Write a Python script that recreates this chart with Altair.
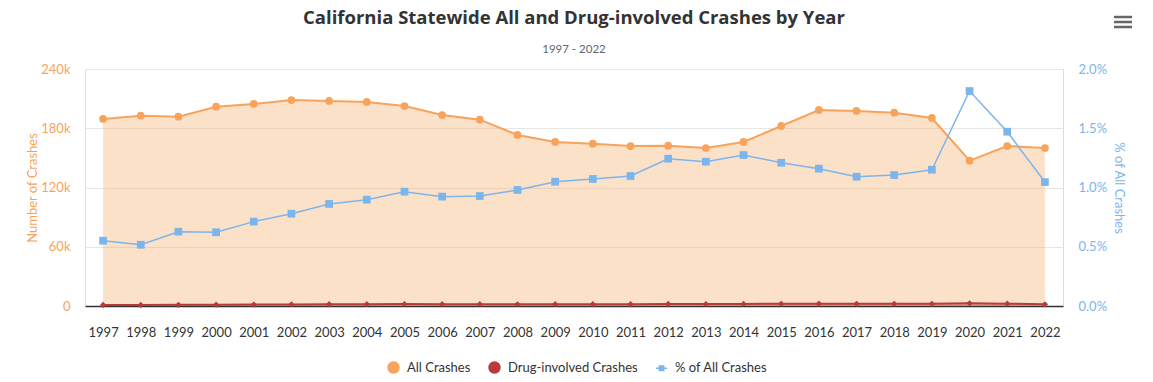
import altair as alt
import pandas as pd

years = [str(y) for y in range(1997, 2023)]
all_crashes = [189400, 192700, 191700, 201800, 204600, 208600, 207600, 206600, 202500, 193400,
               188700, 173200, 166100, 164400, 162000, 162300, 160000, 166100, 182300, 198500,
               197500, 195800, 190400, 147200, 162000, 160000]
drug_crashes = [1044, 996, 1202, 1255, 1457, 1625, 1787, 1853, 1954, 1785,
                1751, 1696, 1742, 1762, 1777, 2017, 1949, 2116, 2204, 2301,
                2155, 2164, 2190, 2670, 2383, 1674]
pct_all = [0.551, 0.517, 0.627, 0.622, 0.712, 0.779, 0.861, 0.897, 0.965, 0.923,
           0.928, 0.979, 1.049, 1.072, 1.097, 1.243, 1.218, 1.274, 1.209, 1.159,
           1.091, 1.105, 1.150, 1.814, 1.471, 1.046]
series_names = ["All Crashes", "Drug-involved Crashes", "% of All Crashes"]
left_ticks = [0, 60000, 120000, 180000, 240000]
right_ticks = [0.0, 0.5, 1.0, 1.5, 2.0]
title_text = "California Statewide All and Drug-involved Crashes by Year"
subtitle_text = "1997 - 2022"

ORANGE = "#f7a35c"
RED = "#b93a3a"
BLUE = "#7cb5ec"
FONT = "Lato"
TITLE_FONT = "Open Sans"

df = pd.DataFrame({"Year": years, "All": all_crashes, "Drug": drug_crashes, "Pct": pct_all})

X = alt.X("Year:O", scale=alt.Scale(type="point", padding=0.48),
          axis=alt.Axis(title=None, labelAngle=0, domainColor="#333333", domainWidth=1.5,
                        ticks=False, tickSize=0, labelColor="#333333", labelFontSize=13,
                        labelPadding=20, grid=False, labelFont=FONT))

yL_scale = alt.Scale(domain=[0, 240000], nice=False)
axL = alt.Axis(values=left_ticks, labelExpr="datum.value == 0 ? '0' : (datum.value/1000) + 'k'",
               labelColor=ORANGE, labelFontSize=13, labelPadding=15, domain=False, ticks=False,
               gridColor="#e6e6e6", titleColor=ORANGE, titleFontWeight="normal", titleFontSize=13,
               titlePadding=1, labelFont=FONT, titleFont=FONT)
TL = "Number of Crashes"

base = alt.Chart(df).encode(x=X)
area_all = base.mark_area(color=ORANGE, opacity=0.33).encode(
    y=alt.Y("All:Q", scale=yL_scale, axis=axL, title=TL))
area_drug = base.mark_area(color=RED, opacity=0.4).encode(y=alt.Y("Drug:Q", title=TL))
line_all = base.mark_line(color=ORANGE, strokeWidth=2).encode(y=alt.Y("All:Q", title=TL))
line_drug = base.mark_line(color=RED, strokeWidth=2).encode(y=alt.Y("Drug:Q", title=TL))
pts_all = base.mark_point(filled=True, color=ORANGE, size=60, opacity=1, shape="circle").encode(
    y=alt.Y("All:Q", title=TL))
pts_drug = base.mark_point(filled=True, color=RED, size=40, opacity=1, shape="diamond").encode(
    y=alt.Y("Drug:Q", title=TL))

legend_df = pd.DataFrame({"series": series_names})
leg_path = "M-1,0H-0.4M0.4,0H1M-0.4,-0.4H0.4V0.4H-0.4Z"
leg = alt.Legend(title=None, orient="none", legendX=302, legendY=292, direction="horizontal",
                 labelFontSize=13, labelColor="#333333", labelFont=FONT, symbolOpacity=1,
                 columnPadding=15, labelOffset=7, symbolStrokeWidth=1.5)
legend_layer = alt.Chart(legend_df).mark_point(filled=True, opacity=0).encode(
    x=alt.value(0), y=alt.value(0),
    fill=alt.Fill("series:N", scale=alt.Scale(domain=series_names, range=[ORANGE, RED, BLUE]), legend=leg),
    stroke=alt.Stroke("series:N", scale=alt.Scale(domain=series_names, range=[ORANGE, RED, BLUE]), legend=leg),
    shape=alt.Shape("series:N", scale=alt.Scale(domain=series_names, range=["circle", "circle", leg_path]), legend=leg),
    size=alt.Size("series:N", scale=alt.Scale(domain=series_names, range=[120, 120, 280]), legend=leg),
)

left = alt.layer(area_all, area_drug, line_all, line_drug, pts_all, pts_drug, legend_layer)

yR_scale = alt.Scale(domain=[0, 2.0], nice=False)
axR = alt.Axis(orient="right", values=right_ticks, labelExpr="format(datum.value, '.1f') + '%'",
               labelColor=BLUE, labelFontSize=13, labelPadding=15, domain=False, ticks=False,
               grid=False, titleColor=BLUE, titleFontWeight="normal", titleFontSize=13,
               titlePadding=5, labelFont=FONT, titleFont=FONT)
TR = "% of All Crashes"
line_pct = base.mark_line(color=BLUE, strokeWidth=1.5).encode(
    y=alt.Y("Pct:Q", scale=yR_scale, axis=axR, title=TR))
pts_pct = base.mark_point(filled=True, color=BLUE, size=60, opacity=1, shape="square").encode(
    y=alt.Y("Pct:Q", title=TR))
right = alt.layer(line_pct, pts_pct)

deco = alt.Data(values=[{"k": 1}])
icon_layers = [
    alt.Chart(deco).mark_rule(color="#666666", strokeWidth=2.5).encode(
        x=alt.value(1029), x2=alt.value(1047), y=alt.value(yy))
    for yy in [-52, -47, -42]
]
title_layer = alt.Chart(deco).mark_text(
    text=title_text, font=TITLE_FONT, fontSize=18.5, fontWeight="bold", color="#333333",
    align="center", baseline="alphabetic").encode(x=alt.value(489), y=alt.value(-45))
subtitle_layer = alt.Chart(deco).mark_text(
    text=subtitle_text, font=FONT, fontSize=11.5, color="#666666",
    align="center", baseline="alphabetic").encode(x=alt.value(489), y=alt.value(-16))

chart = alt.layer(left, right, *icon_layers, title_layer, subtitle_layer).resolve_scale(
    y="independent"
).properties(
    width=978, height=237,
    autosize=alt.AutoSizeParams(type="none"),
    padding={"left": 77, "top": 61, "right": 75, "bottom": 68},
).configure_view(stroke=None).configure(font=FONT)

chart.save("out.html", embed_options={"renderer": "svg", "actions": False})
